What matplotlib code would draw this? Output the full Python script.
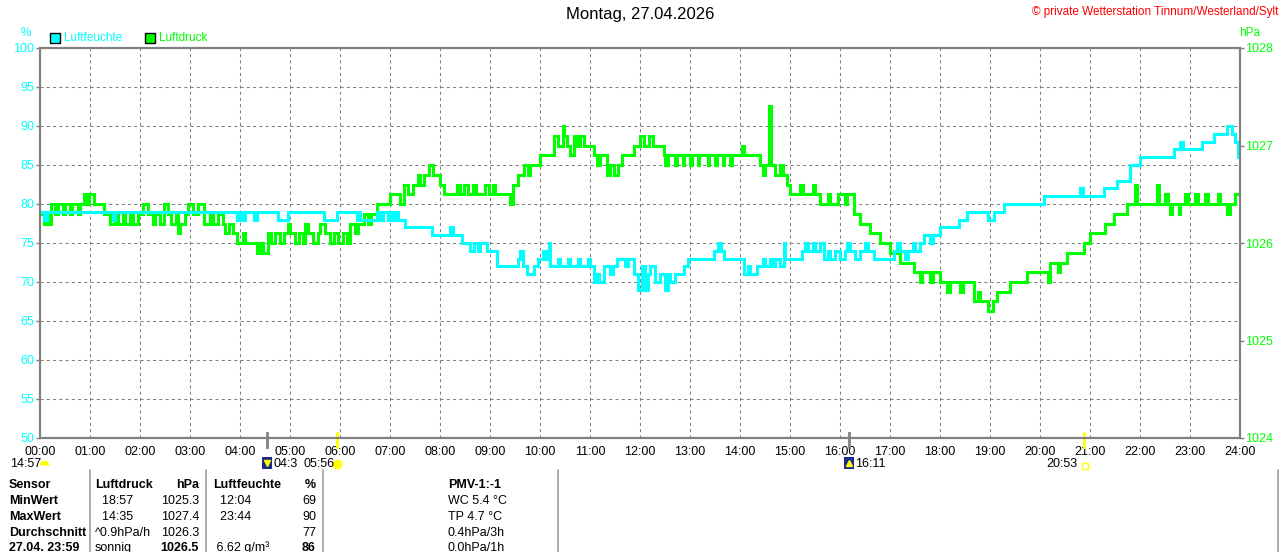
import matplotlib.pyplot as plt
import matplotlib as mpl
import matplotlib.transforms as mtransforms
from matplotlib.lines import Line2D
from matplotlib.patches import Rectangle

mpl.rcParams['font.family'] = ['Liberation Sans', 'DejaVu Sans']

CYAN = '#00ffff'
GRUEN = '#00ff00'
GRAU = '#808080'

### Daten: Zeitpunkte (Stunden) an denen sich der Wert aendert ###
t_feuchte = [0.00, 0.07, 0.13, 1.45, 1.50, 3.93, 4.00, 4.05, 4.10, 4.28, 4.33, 4.75, 4.95,
             5.67, 5.93, 6.33, 6.37, 6.40, 6.73, 6.80, 6.85, 6.95, 7.00, 7.05, 7.10, 7.15,
             7.30, 7.83, 8.20, 8.25, 8.43, 8.60, 8.67, 8.75, 8.80, 8.93, 9.13, 9.55, 9.60,
             9.65, 9.73, 9.87, 9.95, 10.05, 10.12, 10.17, 10.20, 10.35, 10.40, 10.55, 10.60,
             10.75, 10.80, 10.95, 11.00, 11.07, 11.12, 11.17, 11.27, 11.40, 11.45, 11.53,
             11.70, 11.75, 11.87, 11.95, 12.03, 12.10, 12.15, 12.20, 12.30, 12.40, 12.50,
             12.55, 12.60, 12.70, 12.87, 12.95, 13.47, 13.55, 13.62, 13.67, 14.07, 14.15,
             14.20, 14.33, 14.45, 14.50, 14.60, 14.65, 14.70, 14.80, 14.87, 14.90, 15.23,
             15.30, 15.35, 15.45, 15.50, 15.60, 15.67, 15.75, 15.80, 15.90, 16.00, 16.10,
             16.15, 16.20, 16.30, 16.40, 16.50, 16.55, 16.67, 17.07, 17.15, 17.20, 17.30,
             17.35, 17.45, 17.50, 17.60, 17.67, 17.80, 17.85, 18.00, 18.37, 18.53, 18.95,
             19.07, 19.27, 20.07, 20.80, 20.85, 21.27, 21.53, 21.80, 22.00, 22.67, 22.80,
             22.85, 23.23, 23.47, 23.73, 23.83, 23.90, 23.95, 24.00]
feuchte = [79, 78, 79, 78, 79, 78, 79, 78, 79, 78, 79, 78, 79,
           78, 79, 78, 79, 78, 79, 78, 79, 78, 79, 78, 79, 78,
           77, 76, 77, 76, 75, 74, 75, 74, 75, 74, 72, 73, 74,
           72, 71, 72, 73, 74, 73, 75, 72, 73, 72, 73, 72,
           73, 72, 73, 72, 70, 71, 70, 72, 71, 72, 73,
           72, 73, 71, 69, 72, 69, 71, 72, 70, 71, 69,
           71, 70, 71, 72, 73, 74, 75, 74, 73, 71, 72,
           71, 72, 73, 72, 73, 72, 73, 72, 75, 73, 74,
           75, 74, 75, 74, 75, 73, 74, 73, 74, 73, 74,
           75, 74, 73, 74, 75, 74, 73, 74, 75, 74, 73,
           74, 75, 74, 75, 76, 75, 76, 77, 78, 79, 78,
           79, 80, 81, 82, 81, 82, 83, 85, 86, 87, 88,
           87, 88, 89, 90, 89, 88, 86, 86]

t_druck = [0.00, 0.08, 0.13, 0.17, 0.22, 0.30, 0.35, 0.45, 0.50, 0.60, 0.63, 0.75, 0.80,
           0.88, 0.93, 0.98, 1.08, 1.27, 1.40, 1.50, 1.55, 1.65, 1.70, 1.80, 1.85, 1.95,
           2.05, 2.15, 2.25, 2.30, 2.40, 2.48, 2.55, 2.62, 2.72, 2.75, 2.80, 2.90, 2.95,
           3.05, 3.15, 3.27, 3.40, 3.45, 3.55, 3.65, 3.70, 3.78, 3.85, 3.93, 4.05, 4.10,
           4.33, 4.40, 4.45, 4.55, 4.62, 4.70, 4.80, 4.87, 4.95, 5.00, 5.10, 5.18, 5.25,
           5.30, 5.35, 5.45, 5.55, 5.60, 5.70, 5.80, 5.88, 5.95, 6.05, 6.13, 6.20, 6.30,
           6.35, 6.47, 6.55, 6.62, 6.73, 7.00, 7.20, 7.27, 7.35, 7.45, 7.55, 7.60, 7.67,
           7.78, 7.85, 8.00, 8.07, 8.33, 8.40, 8.47, 8.55, 8.65, 8.72, 8.90, 8.97, 9.05,
           9.10, 9.40, 9.45, 9.55, 9.67, 9.75, 9.80, 10.00, 10.27, 10.35, 10.45, 10.48,
           10.53, 10.60, 10.67, 10.73, 10.80, 10.87, 11.07, 11.13, 11.20, 11.33, 11.40,
           11.47, 11.55, 11.63, 11.87, 12.00, 12.07, 12.17, 12.25, 12.47, 12.50, 12.55,
           12.70, 12.73, 12.85, 12.88, 13.00, 13.03, 13.15, 13.18, 13.35, 13.38, 13.50,
           13.53, 13.65, 13.68, 13.80, 13.83, 14.03, 14.07, 14.40, 14.45, 14.50, 14.57,
           14.62, 14.70, 14.80, 14.85, 14.93, 15.00, 15.20, 15.25, 15.45, 15.50, 15.60,
           15.75, 15.80, 15.95, 16.10, 16.15, 16.27, 16.40, 16.60, 16.80, 17.00, 17.20,
           17.47, 17.60, 17.65, 17.80, 17.85, 18.00, 18.15, 18.20, 18.40, 18.45, 18.67,
           18.75, 18.80, 18.95, 19.05, 19.13, 19.40, 19.73, 20.15, 20.20, 20.35, 20.40,
           20.53, 20.87, 21.00, 21.30, 21.47, 21.73, 21.90, 21.93, 22.33, 22.37, 22.50,
           22.55, 22.60, 22.63, 22.77, 22.80, 22.90, 22.95, 23.10, 23.15, 23.30, 23.35,
           23.55, 23.60, 23.73, 23.80, 23.90, 24.00]
druck = [1026.3, 1026.2, 1026.3, 1026.2, 1026.4, 1026.3, 1026.4, 1026.3, 1026.4, 1026.3, 1026.4, 1026.3, 1026.4,
         1026.5, 1026.4, 1026.5, 1026.4, 1026.3, 1026.2, 1026.3, 1026.2, 1026.3, 1026.2, 1026.3, 1026.2, 1026.3,
         1026.4, 1026.3, 1026.2, 1026.3, 1026.2, 1026.4, 1026.3, 1026.2, 1026.3, 1026.1, 1026.2, 1026.3, 1026.4,
         1026.3, 1026.4, 1026.2, 1026.3, 1026.2, 1026.3, 1026.2, 1026.1, 1026.2, 1026.1, 1026.0, 1026.1, 1026.0,
         1025.9, 1026.0, 1025.9, 1026.1, 1026.0, 1026.1, 1026.0, 1026.1, 1026.2, 1026.1, 1026.0, 1026.1, 1026.0,
         1026.2, 1026.1, 1026.0, 1026.1, 1026.2, 1026.1, 1026.0, 1026.1, 1026.0, 1026.1, 1026.0, 1026.2, 1026.1,
         1026.2, 1026.3, 1026.2, 1026.3, 1026.4, 1026.5, 1026.4, 1026.6, 1026.5, 1026.6, 1026.7, 1026.6, 1026.7,
         1026.8, 1026.7, 1026.6, 1026.5, 1026.6, 1026.5, 1026.6, 1026.5, 1026.6, 1026.5, 1026.6, 1026.5, 1026.6,
         1026.5, 1026.4, 1026.6, 1026.7, 1026.8, 1026.7, 1026.8, 1026.9, 1027.1, 1027.0, 1027.2, 1027.1,
         1027.0, 1026.9, 1027.1, 1027.0, 1027.1, 1027.0, 1026.9, 1026.8, 1026.9, 1026.7, 1026.8,
         1026.7, 1026.8, 1026.9, 1027.0, 1027.1, 1027.0, 1027.1, 1027.0, 1026.9, 1026.8, 1026.9,
         1026.8, 1026.9, 1026.8, 1026.9, 1026.8, 1026.9, 1026.8, 1026.9, 1026.8, 1026.9, 1026.8,
         1026.9, 1026.8, 1026.9, 1026.8, 1026.9, 1027.0, 1026.9, 1026.8, 1026.7, 1026.8, 1027.4,
         1026.8, 1026.7, 1026.8, 1026.7, 1026.6, 1026.5, 1026.6, 1026.5, 1026.6, 1026.5, 1026.4,
         1026.5, 1026.4, 1026.5, 1026.4, 1026.5, 1026.3, 1026.2, 1026.1, 1026.0, 1025.9, 1025.8,
         1025.7, 1025.6, 1025.7, 1025.6, 1025.7, 1025.6, 1025.5, 1025.6, 1025.5, 1025.6, 1025.4,
         1025.5, 1025.4, 1025.3, 1025.4, 1025.5, 1025.6, 1025.7, 1025.6, 1025.8, 1025.7, 1025.8,
         1025.9, 1026.0, 1026.1, 1026.2, 1026.3, 1026.4, 1026.6, 1026.4, 1026.6, 1026.4, 1026.5,
         1026.4, 1026.3, 1026.4, 1026.3, 1026.4, 1026.5, 1026.4, 1026.5, 1026.4, 1026.5, 1026.4,
         1026.5, 1026.4, 1026.3, 1026.4, 1026.5, 1026.5]

stunden = list(range(0, 25))
stunden_labels = [f'{h:02d}:00' for h in stunden]
feuchte_ticks = list(range(50, 101, 5))
druck_ticks = [1024, 1025, 1026, 1027, 1028]

# Sonne / Mond (Zeit in Stunden, Farbe der Markierung)
ereignisse = [(4 + 32 / 60, GRAU), (5 + 56 / 60, '#ffff00'), (16 + 11 / 60, GRAU), (20 + 53 / 60, '#ffff00')]

tabelle = [
    ['Sensor', 'Luftdruck', 'hPa', 'Luftfeuchte', '%', 'PMV-1:-1'],
    ['MinWert', '  18:57', '1025.3', '  12:04', '69', 'WC 5.4 °C'],
    ['MaxWert', '  14:35', '1027.4', '  23:44', '90', 'TP 4.7 °C'],
    ['Durchschnitt', '^0.9hPa/h', '1026.3', '', '77', '0.4hPa/3h'],
    ['27.04. 23:59', 'sonnig', '1026.5', ' 6.62 g/m³', '86', '0.0hPa/1h'],
]


def fx(px):
    return px / 1280


def fy(py):
    return 1 - py / 552


### Figur ###
fig = plt.figure(figsize=(12.8, 5.52), dpi=100)
ax = fig.add_axes([fx(40), fy(438), 1200 / 1280, 390 / 552])
ax2 = ax.twinx()

ax.set_xlim(0, 24)
ax.set_ylim(50, 100)
ax2.set_ylim(1024, 1028)

ax.grid(True, color=GRAU, linestyle=(0, (3, 3)), linewidth=0.75)
ax.set_xticks(stunden)
ax.set_xticklabels(stunden_labels)
ax.set_yticks(feuchte_ticks)
ax.tick_params(axis='x', length=0, pad=6, labelsize=9, labelcolor='black')
ax.tick_params(axis='y', length=3, width=1, color=GRAU, pad=1, labelsize=9, labelcolor=CYAN)
ax2.set_yticks(druck_ticks)
ax2.tick_params(axis='y', length=3, width=1, color=GRAU, pad=1, labelsize=9, labelcolor=GRUEN)

for a in (ax, ax2):
    for s in a.spines.values():
        s.set_color(GRAU)
        s.set_linewidth(1.5)

# Linien (Luftfeuchte oben)
ax2.plot(t_druck, druck, color=GRUEN, linewidth=2.2, drawstyle='steps-post', solid_joinstyle='miter')
ax2.plot(t_feuchte, feuchte, color=CYAN, linewidth=2.2, drawstyle='steps-post',
         solid_joinstyle='miter', transform=ax.transData)
ax2.set_ylim(1024, 1028)

# Sonnen-/Mondmarken an der x-Achse
trans = mtransforms.blended_transform_factory(ax.transData, ax.transAxes)
for t, farbe in ereignisse:
    ax.plot([t, t], [0.013, -0.022], color=farbe, linewidth=2, transform=trans, clip_on=False)

### Texte ###
fig.text(0.5, fy(15), 'Montag, 27.04.2026', ha='center', va='center', fontsize=12)
fig.text(fx(1278), fy(12), '© private Wetterstation Tinnum/Westerland/Sylt', ha='right', va='center',
         fontsize=8.5, color='red')
fig.text(fx(26), fy(33), '%', ha='center', va='center', fontsize=8.5, color=CYAN)
fig.text(fx(1250), fy(33), 'hPa', ha='center', va='center', fontsize=8.5, color=GRUEN)

# Legende
for x0, farbe, name in [(50, CYAN, 'Luftfeuchte'), (145, GRUEN, 'Luftdruck')]:
    fig.add_artist(Rectangle((fx(x0), fy(43)), 10 / 1280, 10 / 552, facecolor=farbe,
                             edgecolor='black', linewidth=1, transform=fig.transFigure))
    fig.text(fx(x0 + 14), fy(38), name, ha='left', va='center', fontsize=8.5, color=farbe)

# Zeile mit Sonne / Mond
fig.text(fx(10), fy(464), '14:57', ha='left', va='center', fontsize=9)
fig.add_artist(Line2D([fx(44)], [fy(465)], marker='o', markersize=7, fillstyle='top',
                      markerfacecolor='#ffff00', markerfacecoloralt='none', markeredgecolor='none',
                      transform=fig.transFigure))
for x0, pfeil in [(262, 'v'), (844, '^')]:
    fig.add_artist(Rectangle((fx(x0), fy(469)), 10 / 1280, 12 / 552, facecolor='#1c2a8c',
                             edgecolor='none', transform=fig.transFigure))
    fig.add_artist(Line2D([fx(x0 + 5)], [fy(463)], marker=pfeil, markersize=5, color='#ffff00',
                          transform=fig.transFigure))
fig.text(fx(273), fy(464), '04:3', ha='left', va='center', fontsize=9)
fig.text(fx(304), fy(464), '05:56', ha='left', va='center', fontsize=9)
fig.add_artist(Line2D([fx(337)], [fy(464)], marker='o', markersize=6, color='#ffff00',
                      transform=fig.transFigure))
fig.text(fx(855), fy(464), '16:11', ha='left', va='center', fontsize=9)
fig.text(fx(1077), fy(464), '20:53', ha='right', va='center', fontsize=9)
fig.add_artist(Line2D([fx(1085)], [fy(466)], marker='s', markersize=4, markerfacecolor='none',
                      markeredgecolor='#ffff00', transform=fig.transFigure))

# Tabelle
spalten = [(9, 'left'), (95, 'left'), (199, 'right'), (213, 'left'), (316, 'right'), (448, 'left')]
zeilen_y = [485, 501, 517, 533, 548]
for i, zeile in enumerate(tabelle):
    for j, txt in enumerate(zeile):
        fett = i == 0 or j == 0 or (i == 4 and j in (2, 4))
        x0, ausr = spalten[j]
        fig.text(fx(x0), fy(zeilen_y[i]), txt, ha=ausr, va='center', fontsize=9,
                 fontweight='bold' if fett else 'normal')

for xs in [90, 206, 323, 558, 1278]:
    fig.add_artist(Line2D([fx(xs), fx(xs)], [fy(470), 0], color='#a0a0a0', linewidth=1.2,
                          transform=fig.transFigure))

plt.savefig('out.png', dpi=100)
